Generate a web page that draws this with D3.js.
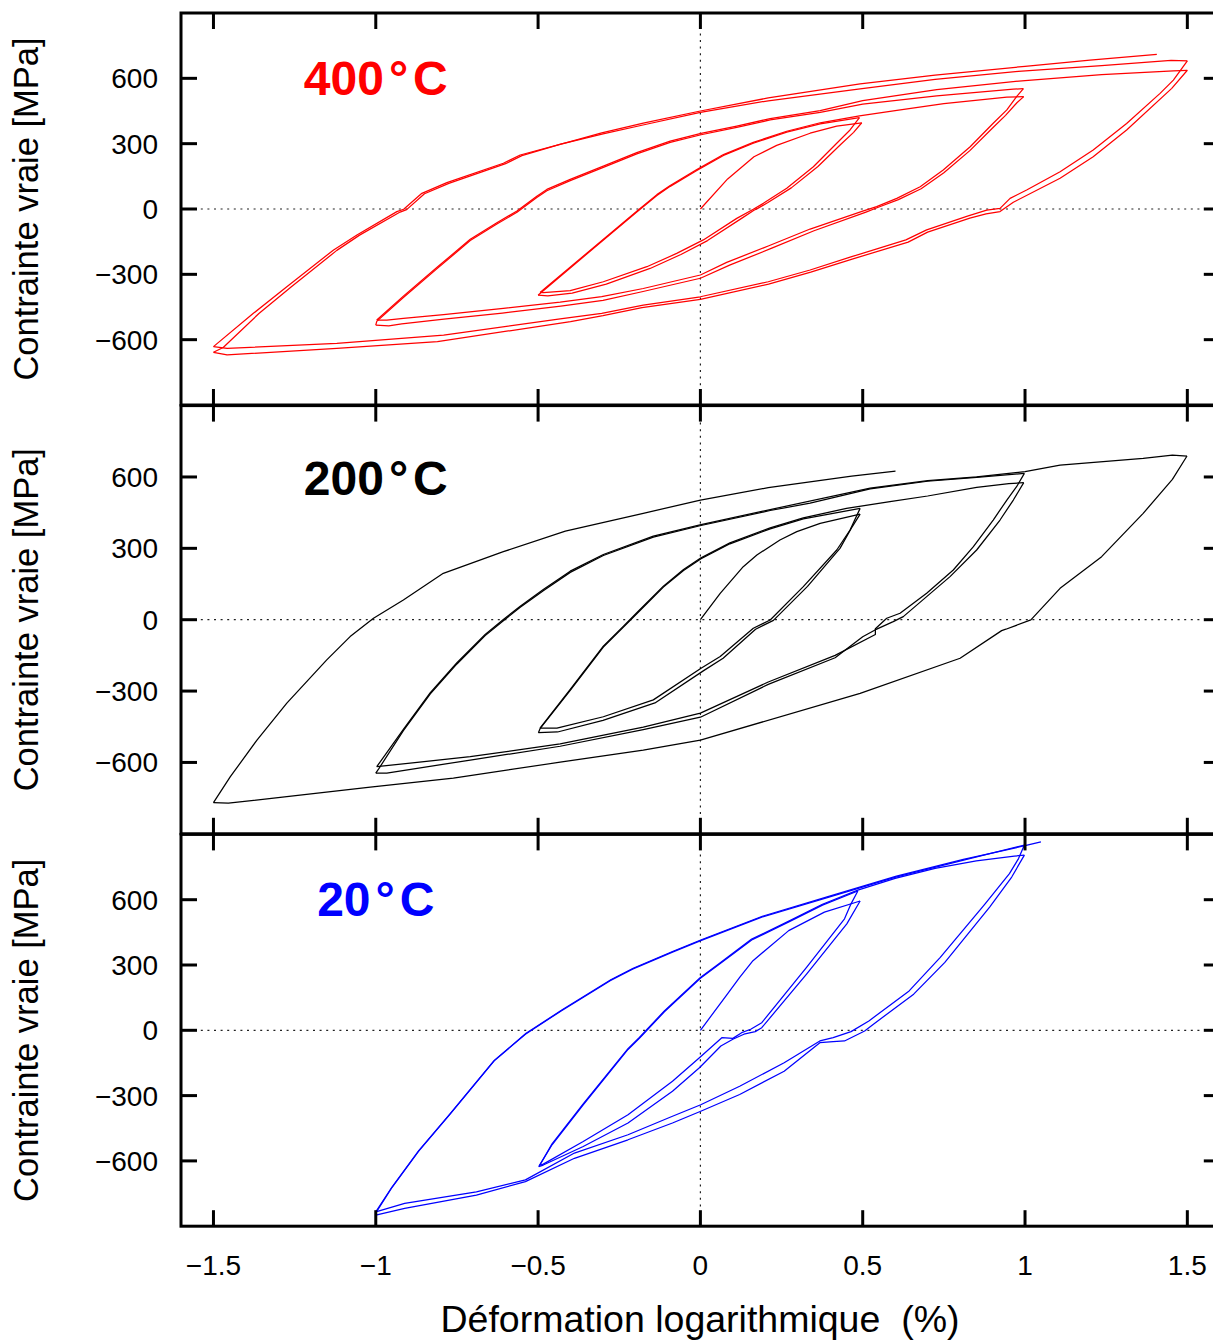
<!DOCTYPE html>
<html><head><meta charset="utf-8">
<script src="https://cdn.jsdelivr.net/npm/d3@7"></script>
<style>
body{margin:0;background:#fff}
svg{display:block}
text{font-family:"Liberation Sans",Arial,Helvetica,sans-serif}
</style>
</head><body>
<svg id="chart" width="1213" height="1342"></svg>
<script>
// ---------- axis / label data ----------
const xTicks = [-1.5, -1, -0.5, 0, 0.5, 1, 1.5];
const xTickLabels = ["\u22121.5", "\u22121", "\u22120.5", "0", "0.5", "1", "1.5"];
const yTicks = [-600, -300, 0, 300, 600];
const yTickLabels = ["\u2212600", "\u2212300", "0", "300", "600"];
const xDomain = [-1.6, 1.6];
const yDomain = [-900, 900];
const xTitle = "Déformation logarithmique  (%)";
const yTitle = "Contrainte vraie [MPa]";
const panelTemps = ["400", "200", "20"];

// ---------- 400 °C (strain %, stress MPa) ----------
const red_init = [[0,0],[0.084,138],[0.165,240],[0.235,292],[0.338,348],[0.42,381],[0.497,396]];
const red_d05a = [[0.497,396],[0.472,352],[0.432,296],[0.362,195],[0.28,97],[0.208,30],[0.178,4],[0.165,-6],[0.128,-42],[0.022,-145],[-0.06,-209],[-0.155,-273],[-0.29,-345],[-0.395,-386],[-0.47,-399],[-0.5,-396]];
const red_u05 = [[-0.5,-396],[-0.494,-388],[-0.35,-207],[-0.196,-14],[-0.134,62],[-0.093,104],[-0.011,177],[0.071,246],[0.163,302],[0.266,353],[0.369,391],[0.49,420]];
const red_d05b = [[0.49,420],[0.461,363],[0.42,302],[0.348,194],[0.266,95],[0.194,26],[0.163,-1],[0.112,-43],[0.009,-142],[-0.073,-204],[-0.165,-265],[-0.299,-334],[-0.401,-375],[-0.484,-384],[-0.494,-383]];
const red_u10a = [[-0.494,-383],[-0.35,-203],[-0.196,-10],[-0.134,66],[-0.093,108],[-0.011,181],[0.071,250],[0.163,306],[0.266,357],[0.369,396],[0.49,428],[0.6,452],[0.75,484],[0.944,514],[0.996,516]];
const red_d10a = [[0.996,516],[0.975,488],[0.94,430],[0.9,372],[0.83,268],[0.75,166],[0.68,93],[0.61,43],[0.55,9],[0.51,-14],[0.35,-100],[0.22,-180],[0.09,-258],[0,-318],[-0.18,-380],[-0.3,-420],[-0.43,-446],[-0.61,-478],[-0.79,-506],[-0.92,-528],[-0.96,-537],[-1.0,-533]];
const red_u10b = [[-1.0,-533],[-0.997,-516],[-0.915,-406],[-0.812,-275],[-0.709,-145],[-0.627,-69],[-0.565,-15],[-0.504,53],[-0.473,84],[-0.401,130],[-0.299,191],[-0.196,253],[-0.093,306],[0.002,341],[0.112,375],[0.215,409],[0.369,444],[0.5,482],[0.728,520],[0.964,550],[0.995,553]];
const red_d10b = [[0.995,553],[0.974,516],[0.944,455],[0.902,394],[0.831,286],[0.748,179],[0.677,102],[0.605,49],[0.543,11],[0.5,-10],[0.338,-92],[0.209,-170],[0.081,-245],[0,-303],[-0.176,-365],[-0.304,-402],[-0.432,-428],[-0.607,-456],[-0.791,-485],[-0.915,-502],[-0.966,-510],[-0.997,-510]];
const red_u15a = [[-0.997,-510],[-0.915,-400],[-0.812,-269],[-0.709,-139],[-0.627,-63],[-0.565,-9],[-0.504,59],[-0.473,90],[-0.401,136],[-0.299,197],[-0.196,259],[-0.093,312],[0.002,347],[0.112,381],[0.215,415],[0.369,452],[0.5,498],[0.728,548],[1.0,590],[1.236,617],[1.457,634],[1.5,637]];
const red_d15a = [[1.5,637],[1.452,554],[1.313,363],[1.21,240],[1.108,141],[0.964,31],[0.923,-12],[0.88,-22],[0.83,-42],[0.7,-106],[0.64,-152],[0.47,-229],[0.34,-290],[0.21,-345],[0,-415],[-0.18,-453],[-0.3,-490],[-0.4,-517],[-0.81,-609],[-1.12,-640],[-1.458,-670],[-1.5,-658]];
const red_u15b = [[-1.5,-658],[-1.47,-636],[-1.36,-480],[-1.26,-357],[-1.12,-190],[-1.05,-120],[-0.925,-14],[-0.905,-3],[-0.85,70],[-0.775,118],[-0.6,208],[-0.55,245],[-0.43,298],[-0.3,345],[-0.17,388],[0,444],[0.209,497],[0.492,552],[0.723,595],[0.979,632],[1.236,658],[1.45,682],[1.5,680]];
const red_d15b = [[1.5,680],[1.457,592],[1.416,531],[1.313,393],[1.21,271],[1.108,171],[1.005,87],[0.954,49],[0.923,3],[0.882,-5],[0.825,-32],[0.697,-96],[0.633,-142],[0.466,-219],[0.338,-280],[0.209,-334],[0,-403],[-0.176,-441],[-0.304,-479],[-0.432,-505],[-0.791,-579],[-1.12,-617],[-1.458,-640],[-1.5,-632]];
const red_tail = [[-1.5,-632],[-1.377,-479],[-1.274,-357],[-1.13,-188],[-1.058,-119],[-0.935,-12],[-0.914,-1],[-0.858,72],[-0.781,121],[-0.607,210],[-0.555,248],[-0.401,309],[-0.304,350],[-0.176,394],[0,450],[0.209,510],[0.492,575],[0.723,615],[1.0,655],[1.2,684],[1.406,710]];

// ---------- 200 °C ----------
const black_init = [[0,0],[0.061,111],[0.132,223],[0.174,272],[0.245,335],[0.297,370],[0.369,405],[0.492,444]];
const black_d05a = [[0.492,444],[0.465,385],[0.43,300],[0.33,140],[0.225,-3],[0.17,-40],[0.07,-162],[0.01,-214],[-0.14,-350],[-0.3,-423],[-0.44,-472],[-0.499,-475]];
const black_u05 = [[-0.499,-475],[-0.494,-458],[-0.401,-297],[-0.299,-115],[-0.237,-31],[-0.196,25],[-0.114,137],[-0.052,207],[0.002,256],[0.091,319],[0.215,382],[0.317,424],[0.492,468]];
const black_d05b = [[0.492,468],[0.461,377],[0.42,293],[0.317,139],[0.215,-1],[0.163,-36],[0.061,-155],[0.002,-204],[-0.145,-337],[-0.299,-408],[-0.442,-456],[-0.494,-456]];
const black_u10a = [[-0.494,-456],[-0.401,-293],[-0.299,-111],[-0.237,-27],[-0.196,29],[-0.114,141],[-0.052,211],[0.002,260],[0.091,323],[0.215,386],[0.317,428],[0.45,468],[0.584,496],[0.7,520],[0.851,556],[0.95,572],[0.996,576]];
const black_d10a = [[0.996,576],[0.964,503],[0.923,419],[0.851,293],[0.769,181],[0.697,97],[0.625,13],[0.594,-8],[0.538,-43],[0.5,-72],[0.415,-160],[0.209,-272],[0,-410],[-0.176,-462],[-0.432,-532],[-0.709,-590],[-0.966,-645],[-1.0,-645]];
const black_u10b = [[-1.0,-645],[-0.99,-625],[-0.915,-466],[-0.832,-312],[-0.75,-186],[-0.663,-67],[-0.607,-4],[-0.555,52],[-0.484,122],[-0.401,199],[-0.299,270],[-0.145,347],[0.002,396],[0.215,459],[0.338,490],[0.523,550],[0.7,582],[0.851,598],[0.998,615]];
const black_d10b = [[0.998,615],[0.974,559],[0.944,503],[0.902,419],[0.841,307],[0.779,209],[0.697,111],[0.615,27],[0.574,6],[0.539,-38],[0.539,-62],[0.415,-150],[0.209,-262],[0,-393],[-0.176,-452],[-0.432,-522],[-0.709,-576],[-0.997,-618]];
const black_u15 = [[-0.997,-618],[-0.915,-461],[-0.832,-307],[-0.75,-181],[-0.663,-62],[-0.607,1],[-0.555,57],[-0.484,127],[-0.401,204],[-0.299,274],[-0.145,351],[0.002,400],[0.215,463],[0.523,553],[0.7,585],[0.851,600],[1.0,622],[1.108,650],[1.364,678],[1.454,692],[1.499,688]];
const black_d15 = [[1.499,688],[1.454,590],[1.364,447],[1.236,265],[1.108,132],[1.018,-1],[0.941,-40],[0.928,-46],[0.8,-162],[0.492,-310],[0,-506],[-0.176,-548],[-0.432,-599],[-0.761,-666],[-1.017,-704],[-1.274,-744],[-1.454,-771],[-1.5,-769]];
const black_tail = [[-1.5,-769],[-1.448,-660],[-1.366,-506],[-1.274,-351],[-1.151,-169],[-1.079,-71],[-1.007,6],[-0.915,83],[-0.792,195],[-0.607,286],[-0.416,372],[-0.176,447],[0,503],[0.209,555],[0.466,604],[0.601,625]];

// ---------- 20 °C ----------
const blue_init = [[0,0],[0.079,158],[0.121,243],[0.162,320],[0.272,458],[0.382,543],[0.492,594]];
const blue_d05a = [[0.492,594],[0.451,489],[0.327,258],[0.189,12],[0.169,-6],[0.134,-18],[0.1,-41],[0.063,-72],[-0.003,-172],[-0.086,-280],[-0.223,-426],[-0.361,-534],[-0.484,-619],[-0.498,-626]];
const blue_u05 = [[-0.498,-626],[-0.457,-526],[-0.361,-342],[-0.223,-88],[-0.188,-37],[-0.111,85],[0,239],[0.055,300],[0.158,415],[0.274,499],[0.376,575],[0.485,640]];
const blue_d05b = [[0.485,640],[0.464,581],[0.444,512],[0.327,289],[0.189,35],[0.155,5],[0.127,-11],[0.1,-37],[0.066,-34],[-0.003,-126],[-0.086,-234],[-0.223,-388],[-0.361,-511],[-0.484,-615],[-0.495,-620]];
const blue_u10a = [[-0.495,-620],[-0.457,-522],[-0.361,-338],[-0.223,-84],[-0.188,-33],[-0.111,89],[0,243],[0.055,304],[0.158,419],[0.274,503],[0.376,579],[0.485,644],[0.6,698],[0.723,744],[0.85,778],[0.967,800],[0.998,805]];
const blue_d10a = [[0.998,805],[0.959,704],[0.891,566],[0.753,312],[0.657,166],[0.533,28],[0.506,-3],[0.444,-49],[0.409,-52],[0.368,-57],[0.258,-188],[0.121,-295],[0.001,-372],[-0.086,-426],[-0.223,-503],[-0.388,-588],[-0.539,-695],[-0.69,-757],[-0.911,-818],[-1.0,-849]];
const blue_u10b = [[-1.0,-849],[-0.998,-834],[-0.952,-726],[-0.869,-557],[-0.773,-388],[-0.636,-141],[-0.539,-18],[-0.429,89],[-0.278,228],[-0.209,281],[-0.086,359],[0.001,412],[0.189,520],[0.396,612],[0.602,704],[0.808,781],[0.998,851]];
const blue_d10b = [[0.998,851],[0.98,789],[0.952,720],[0.877,581],[0.739,335],[0.643,181],[0.519,43],[0.464,-6],[0.409,-34],[0.368,-49],[0.258,-149],[0.121,-257],[0.001,-342],[-0.086,-395],[-0.223,-480],[-0.388,-564],[-0.539,-687],[-0.69,-742],[-0.911,-795],[-1.0,-834]];
const blue_tail = [[-1.0,-834],[-0.95,-720],[-0.867,-552],[-0.771,-384],[-0.634,-137],[-0.537,-14],[-0.427,93],[-0.276,232],[-0.207,285],[-0.084,363],[0.003,416],[0.191,524],[0.398,616],[0.604,708],[0.81,785],[1.0,848],[1.049,866]];

// ---------- layout ----------
const panels = [
  {top: 13.0, bottom: 405.0, color: "#ff0000", temp: panelTemps[0],
   series: [red_init, red_d05a, red_u05, red_d05b, red_u10a, red_d10a, red_u10b, red_d10b, red_u15a, red_d15a, red_u15b, red_d15b, red_tail]},
  {top: 405.6, bottom: 833.8, color: "#000000", temp: panelTemps[1],
   series: [black_init, black_d05a, black_u05, black_d05b, black_u10a, black_d10a, black_u10b, black_d10b, black_u15, black_d15, black_tail]},
  {top: 834.4, bottom: 1226.2, color: "#0000ff", temp: panelTemps[2],
   series: [blue_init, blue_d05a, blue_u05, blue_d05b, blue_u10a, blue_d10a, blue_u10b, blue_d10b, blue_tail]}
];

const svg = d3.select("#chart");
const x = d3.scaleLinear().domain(xDomain).range([181, 1219.8]);
const tickLen = 16;

panels.forEach((p, i) => {
  const y = d3.scaleLinear().domain(yDomain).range([p.bottom, p.top]);
  const g = svg.append("g");

  // dotted zero lines
  g.append("line").attr("x1", x(xDomain[0])).attr("x2", x(xDomain[1]))
    .attr("y1", y(0)).attr("y2", y(0))
    .attr("stroke", "#222").attr("stroke-width", 1.2).attr("stroke-dasharray", "2,4.6");
  g.append("line").attr("x1", x(0)).attr("x2", x(0))
    .attr("y1", y(yDomain[0])).attr("y2", y(yDomain[1]))
    .attr("stroke", "#222").attr("stroke-width", 1.2).attr("stroke-dasharray", "2,4.6");

  // curves
  const line = d3.line().x(d => x(d[0])).y(d => y(d[1]));
  g.selectAll("path.curve").data(p.series).join("path")
    .attr("class", "curve")
    .attr("d", line)
    .attr("fill", "none")
    .attr("stroke", p.color)
    .attr("stroke-width", 1.25)
    .attr("stroke-linejoin", "round");

  // frame
  g.append("rect").attr("x", x(xDomain[0])).attr("y", p.top)
    .attr("width", x(xDomain[1]) - x(xDomain[0])).attr("height", p.bottom - p.top)
    .attr("fill", "none").attr("stroke", "#000").attr("stroke-width", 3);

  // x ticks top & bottom
  xTicks.forEach(t => {
    g.append("line").attr("x1", x(t)).attr("x2", x(t)).attr("y1", p.top).attr("y2", p.top + tickLen)
      .attr("stroke", "#000").attr("stroke-width", 3);
    g.append("line").attr("x1", x(t)).attr("x2", x(t)).attr("y1", p.bottom).attr("y2", p.bottom - tickLen)
      .attr("stroke", "#000").attr("stroke-width", 3);
  });
  // y ticks left & right + labels
  yTicks.forEach((t, k) => {
    g.append("line").attr("x1", x(xDomain[0])).attr("x2", x(xDomain[0]) + tickLen).attr("y1", y(t)).attr("y2", y(t))
      .attr("stroke", "#000").attr("stroke-width", 3);
    g.append("line").attr("x1", x(xDomain[1])).attr("x2", x(xDomain[1]) - tickLen).attr("y1", y(t)).attr("y2", y(t))
      .attr("stroke", "#000").attr("stroke-width", 3);
    g.append("text").attr("x", 158).attr("y", y(t) + 10)
      .attr("text-anchor", "end").attr("font-size", 28).attr("fill", "#000")
      .text(yTickLabels[k]);
  });

  // y axis title
  g.append("text")
    .attr("transform", `translate(38,${(p.top + p.bottom) / 2}) rotate(-90)`)
    .attr("text-anchor", "middle").attr("font-size", 34.5).attr("fill", "#000")
    .text(yTitle);

  // temperature label
  const tl = g.append("text").attr("x", x(-1)).attr("y", y(525))
    .attr("text-anchor", "middle").attr("font-size", 48).attr("font-weight", "bold")
    .attr("fill", p.color);
  tl.append("tspan").text(p.temp);
  tl.append("tspan").attr("dx", 5).text("\u00b0");
  tl.append("tspan").attr("dx", 5).text("C");
});

// x tick labels under bottom panel
xTicks.forEach((t, k) => {
  svg.append("text").attr("x", x(t)).attr("y", 1275)
    .attr("text-anchor", "middle").attr("font-size", 28).attr("fill", "#000")
    .text(xTickLabels[k]);
});
svg.append("text").attr("x", 700).attr("y", 1332)
  .attr("text-anchor", "middle").attr("font-size", 37.5).attr("fill", "#000")
  .style("white-space", "pre").attr("xml:space", "preserve")
  .text(xTitle);
</script>
</body></html>
